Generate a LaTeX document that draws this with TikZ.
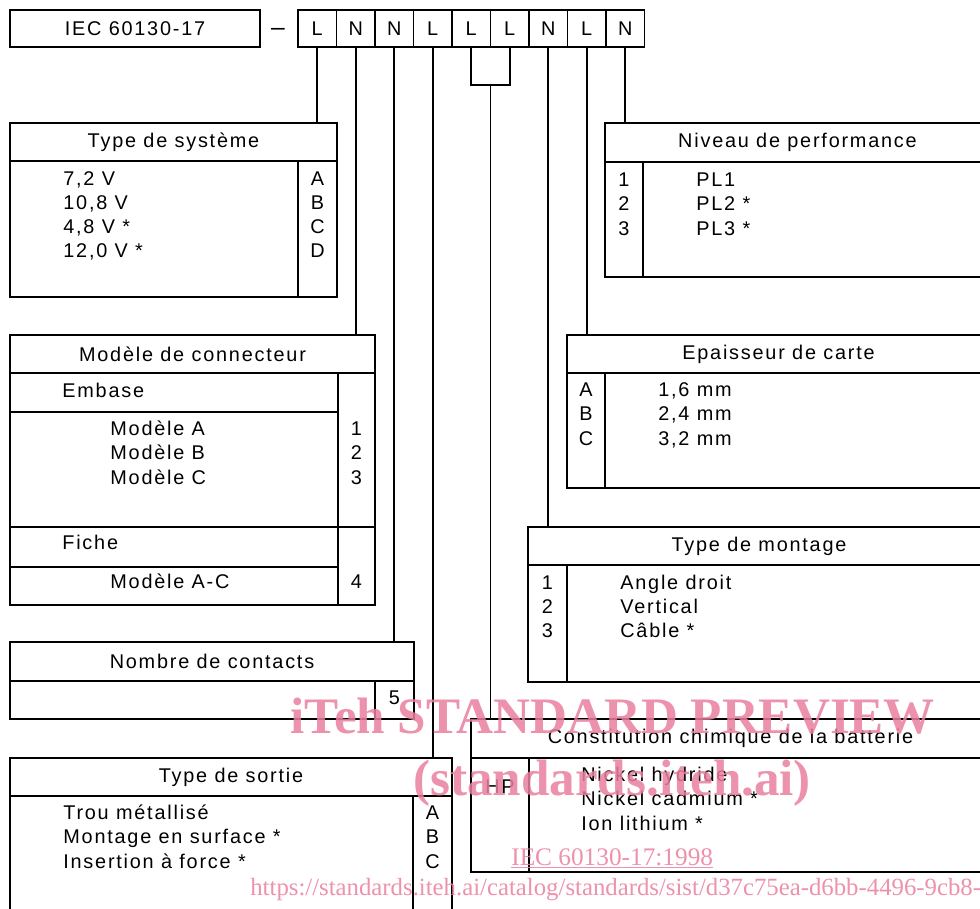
\documentclass[tikz,border=0pt]{standalone}
\usepackage{fontspec}
\setmainfont{Liberation Sans}
\newfontfamily\iecfont[LetterSpace=9]{Liberation Sans}
\newfontfamily\filfont{Liberation Serif}
\definecolor{iecNoir}{HTML}{000000}
\definecolor{itehRose}{HTML}{EA7F9F}
\usetikzlibrary{
	positioning,
	calc
}
\newcommand\txtfont{\iecfont\fontsize{11.3}{13}\selectfont}
\tikzset{
	cadre/.style 2 args={
		draw=iecNoir,
		line width=1.05pt,
		inner sep=0pt,
		outer sep=0pt,
		anchor=north west,
		minimum width=#1*0.02cm,
		minimum height=#2*0.02cm,
		font=\txtfont
	},
	lettre/.style={
		cadre={38.5}{37}
	},
	texte/.style={
		font=\txtfont,
		inner sep=0pt,
		anchor=base west
	},
	repere/.style={
		font=\txtfont,
		inner sep=0pt,
		anchor=base
	},
	liaison/.style={
		draw=iecNoir,
		line width=1.05pt
	},
	filigrane/.style={
		text=itehRose,
		inner sep=0pt,
		anchor=base west,
		opacity=0.85
	}
}

\begin{document}
\begin{tikzpicture}[x=0.02cm, y=-0.02cm]
	\path[use as bounding box, fill=white] (0,0) rectangle (980,909);
	\clip (0,0) rectangle (980,909);

	% designation
	\node[cadre={250}{37}] (iec) at (10,10) {IEC 60130-17};
	\node[inner sep=0pt, font=\fontsize{14}{14}\selectfont] (tiret) at (278,32) {–};
	\node[lettre] (c1) at (298,10) {L};
	\node[lettre, right=0pt of c1] (c2) {N};
	\node[lettre, right=0pt of c2] (c3) {N};
	\node[lettre, right=0pt of c3] (c4) {L};
	\node[lettre, right=0pt of c4] (c5) {L};
	\node[lettre, right=0pt of c5] (c6) {L};
	\node[lettre, right=0pt of c6] (c7) {N};
	\node[lettre, right=0pt of c7] (c8) {L};
	\node[lettre, right=0pt of c8] (c9) {N};

	% Type de systeme
	\node[cadre={327}{38}] (sysH) at (10,123) {Type de système};
	\node[cadre={327}{136}] (sysB) at (sysH.south west) {};
	\node[cadre={39}{136}] (sysC) at (298,161) {};
	\node[texte] (sys1) at (63,185) {7,2 V};
	\node[texte] (sys2) at (63,209.3) {10,8 V};
	\node[texte] (sys3) at (63,233.6) {4,8 V *};
	\node[texte] (sys4) at (63,257.9) {12,0 V *};
	\node[repere] (sysA) at (317.5,185) {A};
	\node[repere] (sysBb) at (317.5,209.3) {B};
	\node[repere] (sysCc) at (317.5,233.6) {C};
	\node[repere] (sysD) at (317.5,257.9) {D};

	% Niveau de performance
	\node[cadre={385}{39}] (perfH) at (605,123) {Niveau de performance};
	\node[cadre={385}{115}] (perfB) at (perfH.south west) {};
	\node[cadre={38}{115}] (perfC) at (perfH.south west) {};
	\node[repere] (perf1) at (624,186.5) {1};
	\node[repere] (perf2) at (624,210.8) {2};
	\node[repere] (perf3) at (624,235.1) {3};
	\node[texte] (pl1) at (696,186.5) {PL1};
	\node[texte] (pl2) at (696,210.8) {PL2 *};
	\node[texte] (pl3) at (696,235.1) {PL3 *};

	% Modele de connecteur
	\node[cadre={365}{38}] (conH) at (10,335) {Modèle de connecteur};
	\node[cadre={328}{39}] (conE) at (conH.south west) {};
	\node[cadre={328}{115}] (conM) at (conE.south west) {};
	\node[cadre={37}{154}] (conC) at (338,373) {};
	\node[cadre={328}{40}] (conF) at (conM.south west) {};
	\node[cadre={37}{78}] (conD) at (338,527) {};
	\node[cadre={328}{38}] (conG) at (conF.south west) {};
	\node[texte] (emb) at (62,397.5) {Embase};
	\node[texte] (modA) at (110,435.5) {Modèle A};
	\node[texte] (modB) at (110,459.8) {Modèle B};
	\node[texte] (modC) at (110,484.1) {Modèle C};
	\node[repere] (con1) at (356.5,435.5) {1};
	\node[repere] (con2) at (356.5,459.8) {2};
	\node[repere] (con3) at (356.5,484.1) {3};
	\node[texte] (fic) at (62,549.5) {Fiche};
	\node[texte] (modAC) at (110,588.5) {Modèle A-C};
	\node[repere] (con4) at (356.5,588.5) {4};

	% Epaisseur de carte
	\node[cadre={423}{38}] (epaH) at (567,335) {Epaisseur de carte};
	\node[cadre={423}{115}] (epaB) at (epaH.south west) {};
	\node[cadre={38}{115}] (epaC) at (epaH.south west) {};
	\node[repere] (epaA) at (586,396.5) {A};
	\node[repere] (epaBb) at (586,420.8) {B};
	\node[repere] (epaCc) at (586,445.1) {C};
	\node[texte] (mm1) at (658,396.5) {1,6 mm};
	\node[texte] (mm2) at (658,420.8) {2,4 mm};
	\node[texte] (mm3) at (658,445.1) {3,2 mm};

	% Type de montage
	\node[cadre={462}{38}] (monH) at (528,527) {Type de montage};
	\node[cadre={462}{117}] (monB) at (monH.south west) {};
	\node[cadre={39}{117}] (monC) at (monH.south west) {};
	\node[repere] (mon1) at (547.5,589) {1};
	\node[repere] (mon2) at (547.5,613.3) {2};
	\node[repere] (mon3) at (547.5,637.6) {3};
	\node[texte] (ang) at (620,589) {Angle droit};
	\node[texte] (ver) at (620,613.3) {Vertical};
	\node[texte] (cab) at (620,637.6) {Câble *};

	% Nombre de contacts
	\node[cadre={404}{39}] (nbrH) at (10,642) {Nombre de contacts};
	\node[cadre={365}{38}] (nbrB) at (nbrH.south west) {};
	\node[cadre={39}{38}] (nbrC) at (375,681) {};
	\node[repere] (nbr5) at (394.5,704) {5};

	% Type de sortie
	\node[cadre={442}{38}] (sorH) at (10,758) {Type de sortie};
	\node[cadre={403}{130}] (sorB) at (sorH.south west) {};
	\node[cadre={39}{130}] (sorC) at (413,796) {};
	\node[texte] (trou) at (63,819.5) {Trou métallisé};
	\node[texte] (surf) at (63,843.8) {Montage en surface *};
	\node[texte] (ins) at (63,868.1) {Insertion à force *};
	\node[repere] (sorA) at (432.5,819.5) {A};
	\node[repere] (sorBb) at (432.5,843.8) {B};
	\node[repere] (sorCc) at (432.5,868.1) {C};

	% Constitution chimique
	\node[cadre={519}{39}] (chiH) at (471,719) {Constitution chimique de la batterie};
	\node[cadre={519}{114}] (chiB) at (chiH.south west) {};
	\node[cadre={58}{114}] (chiC) at (chiH.south west) {};
	\node[repere] (hp) at (500,793.5) {HP};
	\node[texte] (nih) at (581,781.5) {Nickel hydride};
	\node[texte] (nic) at (581,805.8) {Nickel cadmium *};
	\node[texte] (ion) at (581,830.1) {Ion lithium *};

	% liaisons
	\coordinate (brk) at ($(c5.south)!0.5!(c6.south)+(0,38)$);
	\draw[liaison] (c1.south) -- (c1.south |- sysH.north);
	\draw[liaison] (c2.south) -- (c2.south |- conH.north);
	\draw[liaison] (c3.south) -- (c3.south |- nbrH.north);
	\draw[liaison] (c4.south) -- (c4.south |- sorH.north);
	\draw[liaison] (c5.south) |- (brk) -| (c6.south);
	\draw[liaison] (brk) -- (brk |- chiH.north);
	\draw[liaison] (c7.south) -- (c7.south |- monH.north);
	\draw[liaison] (c8.south) -- (c8.south |- epaH.north);
	\draw[liaison] (c9.south) -- (c9.south |- perfH.north);

	% filigrane
	\node[filigrane, font=\filfont\bfseries\fontsize{29.1}{30}\selectfont] (fil1) at (290,733) {iTeh STANDARD PREVIEW};
	\node[filigrane, font=\filfont\bfseries\fontsize{29.1}{30}\selectfont] (fil2) at (413,795) {(standards.iteh.ai)};
	\node[filigrane, font=\filfont\fontsize{14.4}{16}\selectfont] (fil3) at (511,865) {\underline{IEC 60130-17:1998}};
	\node[filigrane, font=\filfont\fontsize{14.1}{16}\selectfont] (fil4) at (250,895) {https://standards.iteh.ai/catalog/standards/sist/d37c75ea-d6bb-4496-9cb8-};
\end{tikzpicture}
\end{document}
